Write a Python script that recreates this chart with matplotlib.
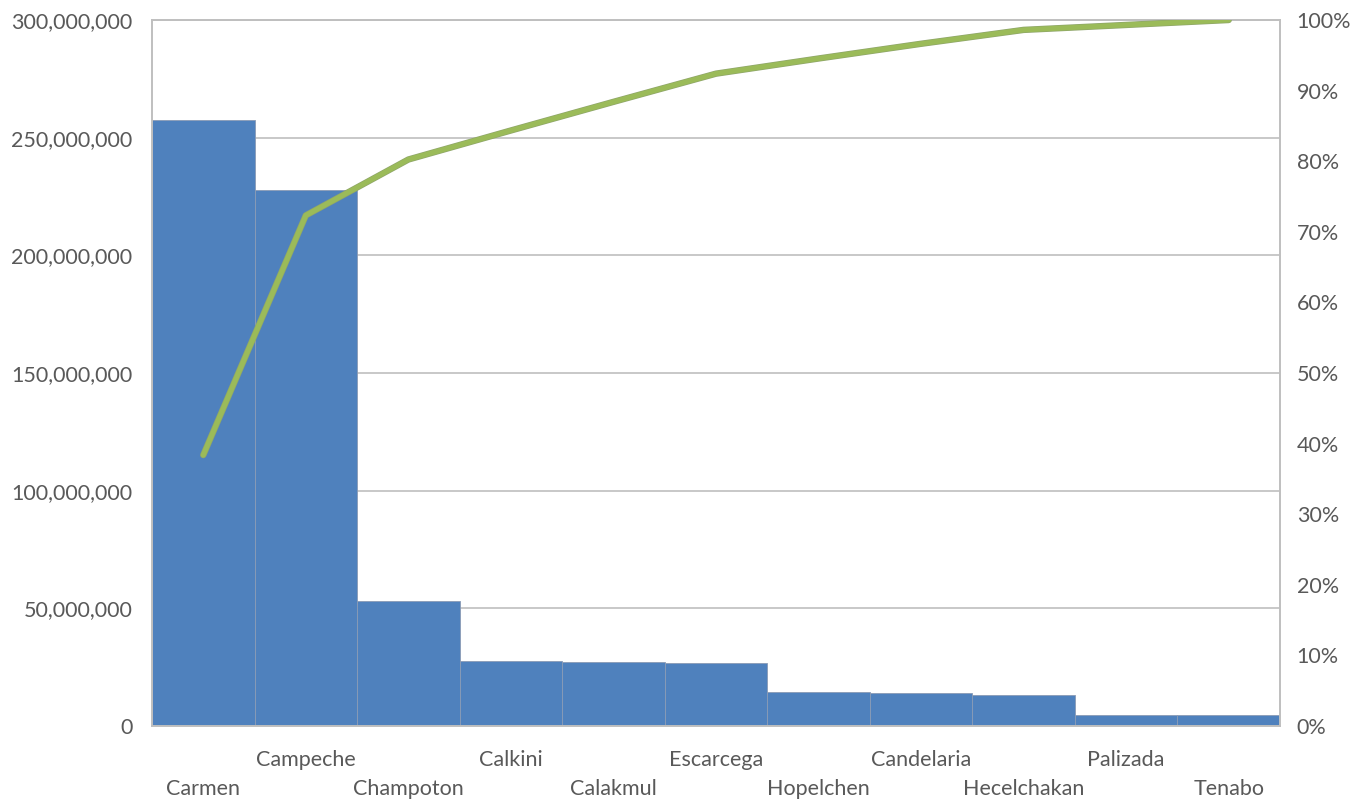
import numpy as np
import matplotlib.pyplot as plt
import matplotlib.patheffects as pe
from matplotlib.ticker import FuncFormatter, MultipleLocator

plt.rcParams["font.family"] = ["Lato", "DejaVu Sans"]

# Datos
municipios = ["Carmen", "Campeche", "Champoton", "Calkini", "Calakmul", "Escarcega",
              "Hopelchen", "Candelaria", "Hecelchakan", "Palizada", "Tenabo"]
montos = [257.5e6, 227.8e6, 53.1e6, 27.6e6, 27.2e6, 26.8e6,
          14.4e6, 14.0e6, 13.2e6, 4.7e6, 4.7e6]

BAR = "#4F81BD"
LINE = "#9BBB59"
GRID = "#BFBFBF"
TXT = "#595959"
FS = 15.5

acum = np.cumsum(montos) / np.sum(montos)
x = np.arange(len(municipios))

fig = plt.figure(figsize=(13.56, 8), dpi=100)
ax = fig.add_axes([152 / 1356, 1 - 726 / 800, (1280 - 152) / 1356, (726 - 20) / 800])

ax.bar(x, montos, width=1.0, color=BAR, edgecolor="#8A9BB5", linewidth=0.6, zorder=2)
ax.set_xlim(-0.5, len(municipios) - 0.5)
ax.set_ylim(0, 300e6)
ax.yaxis.set_major_locator(MultipleLocator(50e6))
ax.yaxis.set_major_formatter(FuncFormatter(lambda v, p: f"{v:,.0f}"))
ax.grid(axis="y", color=GRID, linewidth=1.2, zorder=0)
ax.set_axisbelow(True)
for s in ax.spines.values():
    s.set_color(GRID)
    s.set_linewidth(1.2)
ax.tick_params(axis="y", length=0, pad=14, labelsize=FS, labelcolor=TXT)
ax.set_xticks(x)
ax.set_xticklabels([])
ax.tick_params(axis="x", length=0)

# etiquetas escalonadas
for i, name in enumerate(municipios):
    yoff = -0.048 if i % 2 else -0.089
    ax.text(i, yoff, name, transform=ax.get_xaxis_transform(), ha="center", va="center",
            fontsize=FS, color=TXT)

ax2 = ax.twinx()
ax2.plot(x, acum, color=LINE, linewidth=3.6, solid_capstyle="round", zorder=3,
         path_effects=[pe.Stroke(linewidth=4.6, foreground="#8FA66A"), pe.Normal()])
ax2.set_ylim(0, 1)
ax2.yaxis.set_major_locator(MultipleLocator(0.1))
ax2.yaxis.set_major_formatter(FuncFormatter(lambda v, p: f"{v * 100:.0f}%"))
ax2.tick_params(axis="y", length=0, pad=12, labelsize=FS, labelcolor=TXT)
for s in ax2.spines.values():
    s.set_color(GRID)
    s.set_linewidth(1.2)

fig.savefig("out.png", dpi=100, facecolor="white")
